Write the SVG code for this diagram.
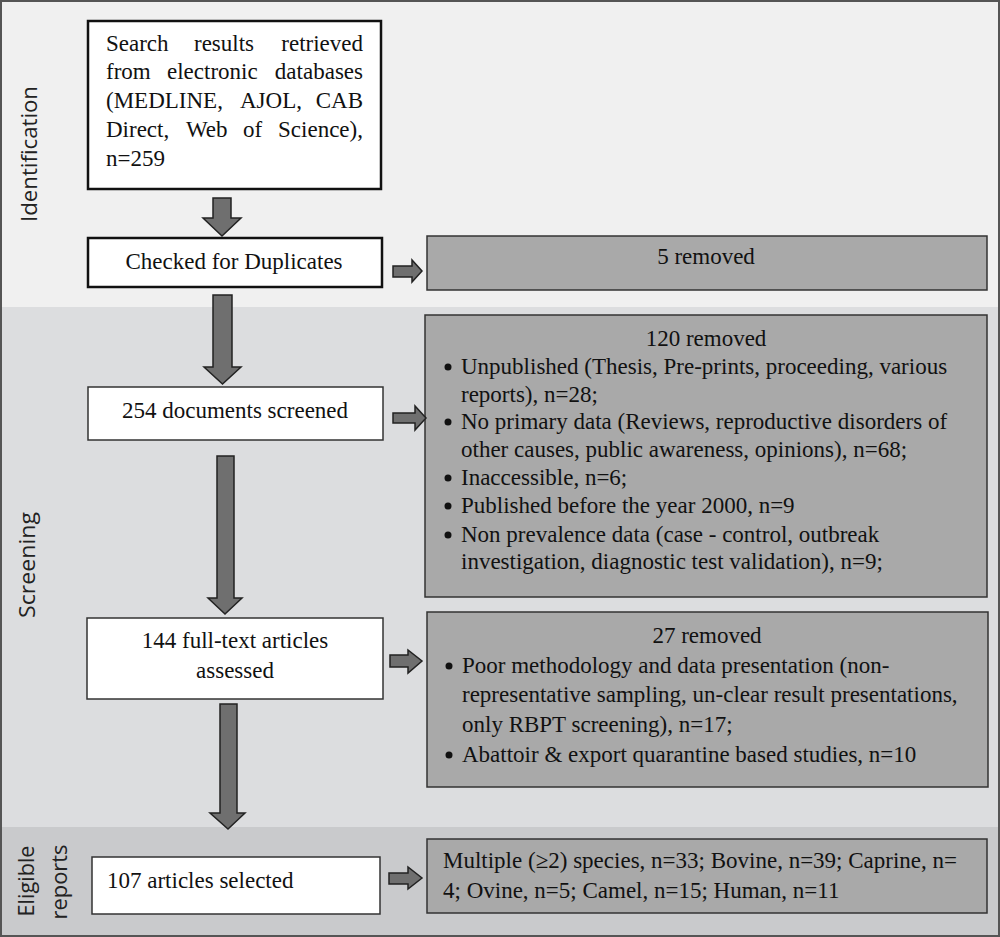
<svg xmlns="http://www.w3.org/2000/svg" width="1000" height="937" viewBox="0 0 1000 937">
<style>
.band-label{font-family:"Open Sans","DejaVu Sans",sans-serif;font-size:22px;fill:#222}
.t{font-family:"Liberation Serif","Times New Roman",serif;font-size:23px;fill:#111}
.c{text-anchor:middle}
.e{text-anchor:end}
.wbox{fill:#fff;stroke:#333;stroke-width:1.5}
.bbox{fill:#fff;stroke:#111;stroke-width:2.5}
.gbox{fill:#a9a9a9;stroke:#333;stroke-width:1.5}
.arr{fill:#6f6f6f;stroke:#222;stroke-width:1.5;stroke-linejoin:miter}
.bul{fill:#111}
</style>
<g id="bands">
<rect x="0" y="0" width="1000" height="307" fill="#f0f0f0"/>
<rect x="0" y="307" width="1000" height="520" fill="#dcdddf"/>
<rect x="0" y="827" width="1000" height="110" fill="#c9cacc"/>
<rect x="1" y="1" width="998" height="935" fill="none" stroke="#555" stroke-width="2"/>
<text class="band-label c" transform="translate(37,154) rotate(-90)" textLength="136" lengthAdjust="spacingAndGlyphs">Identification</text>
<text class="band-label c" transform="translate(35,565) rotate(-90)" textLength="106" lengthAdjust="spacingAndGlyphs">Screening</text>
<text class="band-label c" transform="translate(34,881) rotate(-90)" textLength="71" lengthAdjust="spacingAndGlyphs">Eligible</text>
<text class="band-label c" transform="translate(67,882) rotate(-90)" textLength="75" lengthAdjust="spacingAndGlyphs">reports</text>
</g>
<g id="n-search">
<rect class="bbox" x="88" y="21" width="293" height="168"/>
<text class="t" y="51"><tspan x="106">Search</tspan><tspan x="194">results</tspan><tspan x="363" class="e">retrieved</tspan></text>
<text class="t" y="79"><tspan x="106">from</tspan><tspan x="167">electronic</tspan><tspan x="363" class="e">databases</tspan></text>
<text class="t" y="108"><tspan x="106">(MEDLINE,</tspan><tspan x="240">AJOL,</tspan><tspan x="363" class="e">CAB</tspan></text>
<text class="t" y="137"><tspan x="106">Direct,</tspan><tspan x="186">Web</tspan><tspan x="243">of</tspan><tspan x="363" class="e">Science),</tspan></text>
<text class="t" x="106" y="166">n=259</text>
</g>
<g id="n-duplicates">
<rect class="bbox" x="88" y="238" width="294" height="49"/>
<text class="t c" x="234" y="269">Checked for Duplicates</text>
</g>
<g id="n-removed5">
<rect class="gbox" x="427" y="236" width="560" height="54"/>
<text class="t c" x="706" y="264">5 removed</text>
</g>
<g id="n-screened">
<rect class="wbox" x="88" y="387" width="295" height="53"/>
<text class="t c" x="235" y="418">254 documents screened</text>
</g>
<g id="n-removed120">
<rect class="gbox" x="425" y="315" width="562" height="282"/>
<text class="t c" x="706" y="346">120 removed</text>
<circle class="bul" cx="448" cy="367" r="3.5"/>
<circle class="bul" cx="448" cy="422" r="3.5"/>
<circle class="bul" cx="448" cy="478" r="3.5"/>
<circle class="bul" cx="448" cy="506" r="3.5"/>
<circle class="bul" cx="448" cy="535" r="3.5"/>
<text class="t" x="461" y="374">Unpublished (Thesis, Pre-prints, proceeding, various</text>
<text class="t" x="461" y="402">reports), n=28;</text>
<text class="t" x="461" y="429">No primary data (Reviews, reproductive disorders of</text>
<text class="t" x="461" y="457">other causes, public awareness, opinions), n=68;</text>
<text class="t" x="461" y="485">Inaccessible, n=6;</text>
<text class="t" x="461" y="513">Published before the year 2000, n=9</text>
<text class="t" x="461" y="542">Non prevalence data (case - control, outbreak</text>
<text class="t" x="461" y="569">investigation, diagnostic test validation), n=9;</text>
</g>
<g id="n-fulltext">
<rect class="wbox" x="87" y="618" width="296" height="81"/>
<text class="t c" x="235" y="648">144 full-text articles</text>
<text class="t c" x="235" y="678">assessed</text>
</g>
<g id="n-removed27">
<rect class="gbox" x="427" y="612" width="561" height="175"/>
<text class="t c" x="707" y="643">27 removed</text>
<circle class="bul" cx="449" cy="666" r="3.5"/>
<circle class="bul" cx="449" cy="755" r="3.5"/>
<text class="t" x="462" y="673">Poor methodology and data presentation (non-</text>
<text class="t" x="462" y="702">representative sampling, un-clear result presentations,</text>
<text class="t" x="462" y="732">only RBPT screening), n=17;</text>
<text class="t" x="462" y="762">Abattoir &amp; export quarantine based studies, n=10</text>
</g>
<g id="n-selected">
<rect class="wbox" x="92" y="857" width="288" height="57"/>
<text class="t" x="107" y="888">107 articles selected</text>
</g>
<g id="n-species">
<rect class="gbox" x="427" y="839" width="560" height="74"/>
<text class="t" x="443" y="868">Multiple (≥2) species, n=33; Bovine, n=39; Caprine, n=</text>
<text class="t" x="443" y="898">4; Ovine, n=5; Camel, n=15; Human, n=11</text>
</g>
<g id="connectors">
<polygon class="arr" points="213,198 231,198 231,218 241,218 222,236 203,218 213,218"/>
<polygon class="arr" points="213,295 232,295 232,367 241,367 222.5,384 204,367 213,367"/>
<polygon class="arr" points="217,456 234,456 234,598 242,598 225,614 208,598 217,598"/>
<polygon class="arr" points="220,704 237,704 237,813 245,813 228,829 210,813 220,813"/>
<polygon class="arr" points="393,266 412,266 412,260 422,271 412,282 412,277 393,277"/>
<polygon class="arr" points="393,413 415,413 415,406 426,418 415,430 415,423 393,423"/>
<polygon class="arr" points="390,655 408,655 408,650 422,661 408,673 408,667 390,667"/>
<polygon class="arr" points="389,873 408,873 408,867 422,878 408,889 408,884 389,884"/>
</g>
</svg>
